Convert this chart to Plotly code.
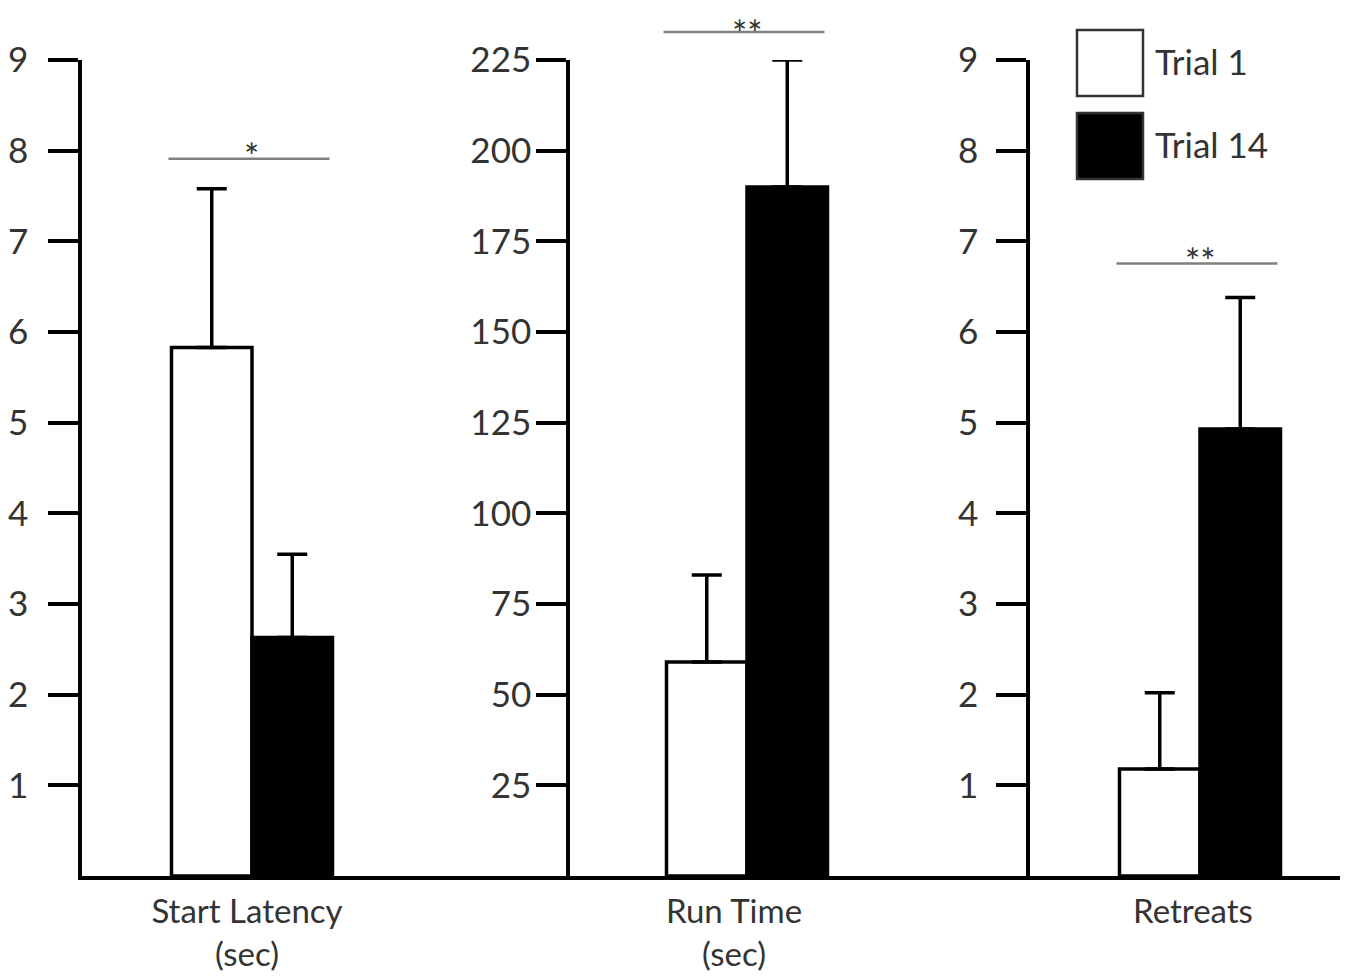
import plotly.graph_objects as go

# ---------------- data ----------------
categories = ["Start Latency<br>(sec)", "Run Time<br>(sec)", "Retreats"]
trial1_mean = [5.83, 59, 1.18]
trial1_err = [1.75, 24, 0.84]
trial14_mean = [2.63, 190, 4.93]
trial14_err = [0.92, 35, 1.45]
y_max = [9, 225, 9]
y_ticks = [[1, 2, 3, 4, 5, 6, 7, 8, 9],
           [25, 50, 75, 100, 125, 150, 175, 200, 225],
           [1, 2, 3, 4, 5, 6, 7, 8, 9]]
sig_labels = ["*", "**", "**"]
series_names = ["Trial 1", "Trial 14"]

# ---------------- layout geometry (reference pixels) ----------------
W, H = 1350, 980
OFF = 8                      # page body margin
axis_left_px = [82, 570, 1030]
axis_right_px = [570, 1030, 1340]
group_center_px = [252, 747, 1200]
plot_top_px, plot_bottom_px = 60, 876
unit_px = 322.0          # pixels per category unit
y_label_standoff = [13, -2, 11]
x_label_shift = [-5, -13, -7]
sig_gap_px = [30, 28, 34]     # gap between top of error bar and significance line
STAR_SIZE = 36
FONT = "Lato"
TXT = "#333333"

fig = go.Figure()

def px_x(p):
    return (p - OFF) / W

def px_y(p):
    return 1 - (p - OFF) / H

for i in range(3):
    sfx = "" if i == 0 else str(i + 1)
    xa, ya = "x" + sfx, "y" + sfx
    fig.add_trace(go.Bar(
        x=[categories[i]], y=[trial1_mean[i]], name=series_names[0],
        xaxis=xa, yaxis=ya, offsetgroup="1",
        marker=dict(color="white", line=dict(color="black", width=3.5)),
        error_y=dict(type="data", symmetric=False, array=[trial1_err[i]], arrayminus=[0],
                     width=15, thickness=3.5, color="black"),
        showlegend=False))
    fig.add_trace(go.Bar(
        x=[categories[i]], y=[trial14_mean[i]], name=series_names[1],
        xaxis=xa, yaxis=ya, offsetgroup="2",
        marker=dict(color="black", line=dict(color="black", width=3.5)),
        error_y=dict(type="data", symmetric=False, array=[trial14_err[i]], arrayminus=[0],
                     width=15, thickness=3.5, color="black"),
        showlegend=False))

    l, r, c = axis_left_px[i], axis_right_px[i], group_center_px[i]
    fig.layout["xaxis" + sfx] = dict(
        domain=[px_x(l), px_x(r)], anchor=ya, type="category",
        range=[-(c - l) / unit_px, (r - c) / unit_px],
        showline=True, linecolor="black", linewidth=3.5, ticks="",
        showgrid=False, zeroline=False, fixedrange=True, automargin=False,
        tickfont=dict(family=FONT, size=33, color=TXT), ticklabelstandoff=4,
        ticklabelshift=x_label_shift[i])
    fig.layout["yaxis" + sfx] = dict(
        domain=[px_y(plot_bottom_px), px_y(plot_top_px)], anchor=xa,
        range=[0, y_max[i]], tickvals=y_ticks[i],
        showline=True, linecolor="black", linewidth=3.5,
        ticks="outside", ticklen=30, tickwidth=3.5, tickcolor="black",
        showgrid=False, zeroline=False, fixedrange=True, automargin=False,
        tickfont=dict(family=FONT, size=35, color=TXT),
        ticklabelstandoff=y_label_standoff[i])

    # significance bar, computed from the data
    top_val = max(trial1_mean[i] + trial1_err[i], trial14_mean[i] + trial14_err[i])
    top_px = plot_bottom_px - top_val / y_max[i] * (plot_bottom_px - plot_top_px)
    line_px = top_px - sig_gap_px[i]
    half = unit_px * 0.25
    fig.add_shape(type="line", xref="paper", yref="paper",
                  x0=px_x(c - half - 3), x1=px_x(c + half - 3),
                  y0=px_y(line_px), y1=px_y(line_px),
                  line=dict(color="#808080", width=2.5))
    star_top = max(line_px - 11 - 0.425 * STAR_SIZE, OFF + 1)
    fig.add_annotation(xref="paper", yref="paper", x=px_x(c), y=px_y(star_top),
                       text=sig_labels[i], showarrow=False, xanchor="center", yanchor="top",
                       font=dict(family=FONT, size=STAR_SIZE, color=TXT))

# ---------------- custom legend ----------------
legend_fill = ["white", "black"]
legend_top_px = [30, 113]
for k in range(2):
    t = legend_top_px[k]
    fig.add_shape(type="rect", xref="paper", yref="paper",
                  x0=px_x(1077), x1=px_x(1143), y0=px_y(t + 66), y1=px_y(t),
                  fillcolor=legend_fill[k], line=dict(color="#333333", width=2.5))
    fig.add_annotation(xref="paper", yref="paper", x=px_x(1153), y=px_y(t + 31),
                       text=series_names[k], showarrow=False, xanchor="left", yanchor="middle",
                       font=dict(family=FONT, size=35, color=TXT))

fig.update_layout(
    width=W, height=H, margin=dict(l=0, r=0, t=0, b=0, autoexpand=False),
    paper_bgcolor="white", plot_bgcolor="white",
    barmode="group", bargap=0.5, bargroupgap=0,
    showlegend=False)

fig.write_html("out.html")
